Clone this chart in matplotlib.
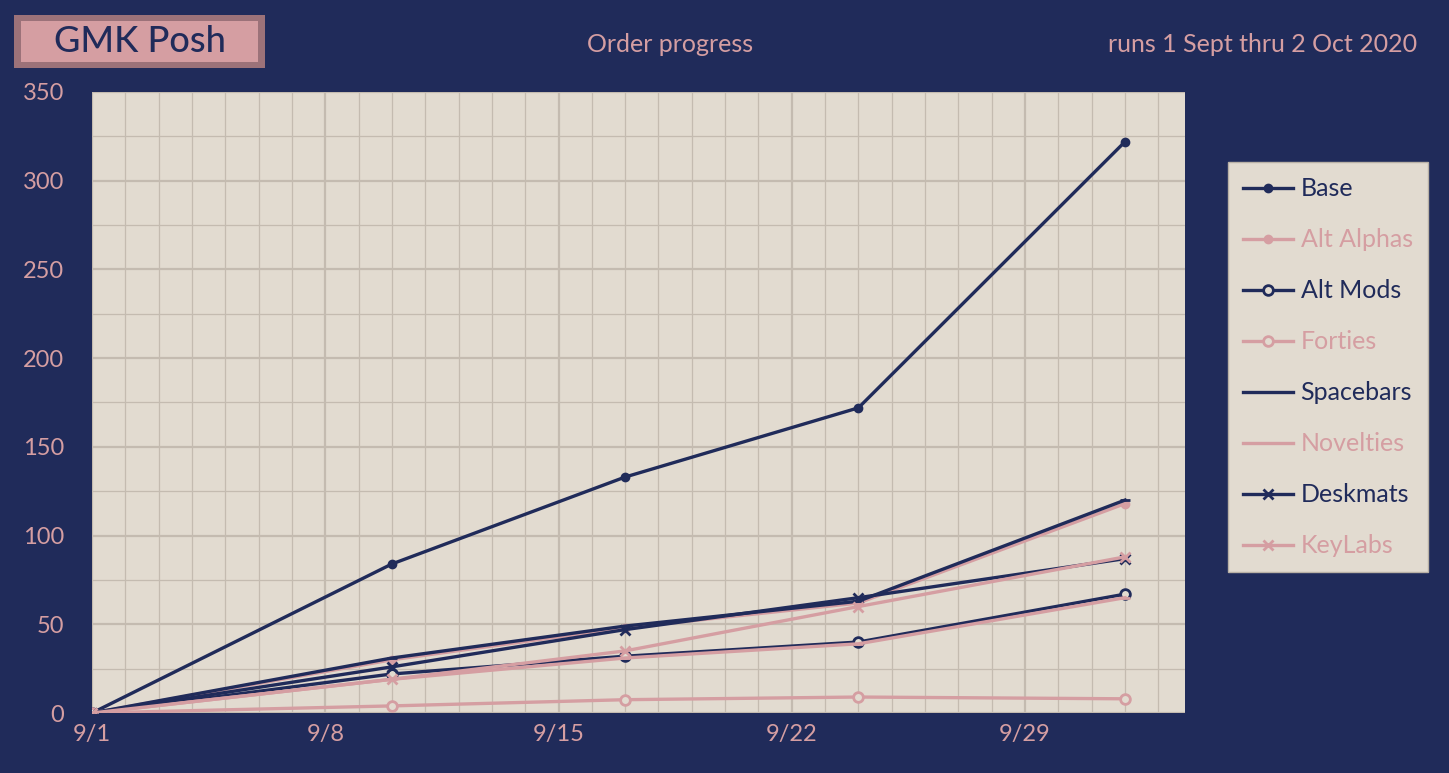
import numpy as np
import matplotlib.pyplot as plt
from matplotlib.patches import Rectangle

# days since 9/1
days = [0, 9, 16, 23, 31]
base = [0, 84, 133, 172, 322]
alt_alphas = [0, 30, 48, 62, 118]
alt_mods = [0, 22, 32, 40, 67]
forties = [0, 4, 7.5, 9, 8]
spacebars = [0, 31, 49, 63, 120]
novelties = [0, 19, 31, 39, 65]
deskmats = [0, 26, 47, 65, 87]
keylabs = [0, 19, 35, 60, 88]
tick_days = [0, 7, 14, 21, 28]
tick_labels = ['9/1', '9/8', '9/15', '9/22', '9/29']

navy = '#202b5a'
pink = '#d59ea2'
paper = '#e2dbd0'
plt.rcParams['font.family'] = ['Lato', 'DejaVu Sans']

fig = plt.figure(figsize=(14.49, 7.73), dpi=100, facecolor=navy)
ax = fig.add_axes([92/1449, 60/773, 1093/1449, 621/773])
ax.set_facecolor(paper)

series = [
    ('Base', base, navy, 'o', 5),
    ('Alt Alphas', alt_alphas, pink, 'o', 5),
    ('Alt Mods', alt_mods, navy, 'o', 7),
    ('Forties', forties, pink, 'o', 7),
    ('Spacebars', spacebars, navy, '_', 7),
    ('Novelties', novelties, pink, '_', 7),
    ('Deskmats', deskmats, navy, 'x', 7),
    ('KeyLabs', keylabs, pink, 'x', 7),
]
for name, vals, c, m, ms in series:
    hollow = name in ('Alt Mods', 'Forties')
    ax.plot(days, vals, color=c, lw=2.4, marker=m, ms=ms, mew=2,
            mfc=paper if hollow else c, label=name)

ax.set_xlim(0, 32.8)
ax.set_ylim(0, 350)
ax.set_yticks(np.arange(0, 351, 50))
ax.set_xticks(tick_days)
ax.set_xticklabels(tick_labels)
# gridlines: daily minor, weekly major
for x in range(0, 33):
    ax.axvline(x, color='#c4bbb0', lw=1.6 if x % 7 == 0 else 0.9, zorder=0)
for y in np.arange(0, 351, 25):
    ax.axhline(y, color='#c4bbb0', lw=1.6 if y % 50 == 0 else 0.9, zorder=0)
ax.tick_params(colors=pink, labelsize=17, length=0, pad=8)
ax.tick_params(axis='y', pad=20)
for s in ax.spines.values():
    s.set_visible(False)

leg = ax.legend(loc='upper left', bbox_to_anchor=(1.028, 0.907), fontsize=18,
                frameon=True, fancybox=False, facecolor=paper, edgecolor='#b9b1a6',
                framealpha=1, labelspacing=1.12, handlelength=2.0, handletextpad=0.3,
                borderpad=0.6)
for t, (name, vals, c, *_r) in zip(leg.get_texts(), series):
    t.set_color(c)

# title box with bevel look
fig.patches.append(Rectangle((14/1449, 1 - 68/773), 251/1449, 53/773, transform=fig.transFigure,
                             facecolor='#9c7279', edgecolor='none'))
fig.patches.append(Rectangle((21/1449, 1 - 62/773), 237/1449, 41/773, transform=fig.transFigure,
                             facecolor=pink, edgecolor='none'))
fig.text(140/1449, 1 - 42/773, 'GMK Posh', color=navy, fontsize=26, ha='center', va='center',
         fontweight='medium')
fig.text(670/1449, 1 - 45/773, 'Order progress', color=pink, fontsize=18, ha='center', va='center')
fig.text(1417/1449, 1 - 45/773, 'runs 1 Sept thru 2 Oct 2020', color=pink, fontsize=18,
         ha='right', va='center')

fig.savefig('out.png', dpi=100, facecolor=navy)
